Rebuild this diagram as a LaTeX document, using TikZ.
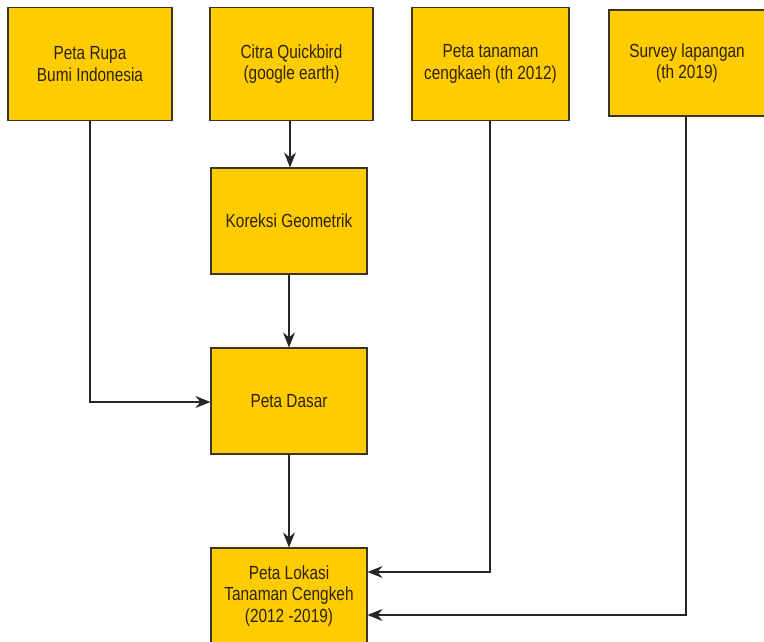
\documentclass[tikz,border=0pt]{standalone}
\usepackage{fontspec}
\setmainfont{Liberation Sans}[FakeStretch=0.81]
\usetikzlibrary{arrows.meta}
\definecolor{boxfill}{HTML}{FFCC00}
\definecolor{boxline}{HTML}{3F3326}
\definecolor{txt}{HTML}{2E2204}
\begin{document}
\begin{tikzpicture}[x=1pt,y=-1pt,
  box/.style={draw=boxline, line width=1.2pt, fill=boxfill, rectangle, inner sep=0pt,
    text=txt, align=center, font=\fontsize{19}{21.5}\selectfont},
  conn/.style={draw=black!85, line width=1.2pt, -{Stealth[length=15pt,width=12pt,inset=5pt]}}]
\useasboundingbox (0,0) rectangle (764,641);
\clip (0,0) rectangle (764,641);
\node[box, minimum width=164pt, minimum height=113pt] (prb) at (90,64) {Peta Rupa\\Bumi Indonesia};
\node[box, minimum width=163pt, minimum height=113pt] (cq) at (291.5,64) {Citra Quickbird\\(google earth)};
\node[box, minimum width=157pt, minimum height=113pt] (ptc) at (490.5,64) {Peta tanaman\\cengkaeh (th 2012)};
\node[box, minimum width=156pt, minimum height=106pt] (sl) at (687,63) {Survey lapangan\\(th 2019)};
\node[box, minimum width=156pt, minimum height=106pt] (kg) at (289,221) {Koreksi Geometrik};
\node[box, minimum width=156pt, minimum height=106pt] (pd) at (289,401) {Peta Dasar};
\node[box, minimum width=156pt, minimum height=96pt] (pl) at (289,596) {Peta Lokasi\\Tanaman Cengkeh\\(2012 -2019)};
\coordinate (c1) at (90,402);
\coordinate (c3) at (490,572);
\coordinate (c4) at (686,615);
\draw[conn] (cq.south -| 290,0) -- (kg.north -| 290,0);
\draw[conn] (kg.south) -- (pd.north);
\draw[conn] (pd.south) -- (pl.north);
\draw[conn] (prb.south) -- (c1) -- (pd.west |- c1);
\draw[conn] (ptc.south -| c3) -- (c3) -- (pl.east |- c3);
\draw[conn] (sl.south -| c4) -- (c4) -- (pl.east |- c4);
\end{tikzpicture}
\end{document}
